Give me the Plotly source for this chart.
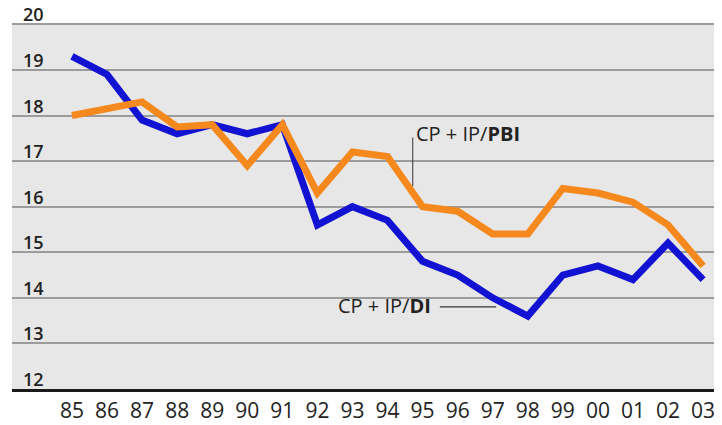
import plotly.graph_objects as go

years = ["85", "86", "87", "88", "89", "90", "91", "92", "93", "94",
         "95", "96", "97", "98", "99", "00", "01", "02", "03"]
cp_ip_di = [19.3, 18.9, 17.9, 17.6, 17.8, 17.6, 17.8, 15.6, 16.0, 15.7,
            14.8, 14.5, 14.0, 13.6, 14.5, 14.7, 14.4, 15.2, 14.4]
cp_ip_pbi = [18.0, 18.15, 18.3, 17.75, 17.8, 16.9, 17.8, 16.3, 17.2, 17.1,
             16.0, 15.9, 15.4, 15.4, 16.4, 16.3, 16.1, 15.6, 14.7]
y_ticks = [12, 13, 14, 15, 16, 17, 18, 19, 20]

BLUE = "#1212d2"
ORANGE = "#f5891e"
FONT = "Open Sans"

fig = go.Figure()
fig.add_trace(go.Scatter(x=years, y=cp_ip_di, mode="lines",
                         line=dict(color=BLUE, width=7), name="CP + IP/DI"))
fig.add_trace(go.Scatter(x=years, y=cp_ip_pbi, mode="lines",
                         line=dict(color=ORANGE, width=7), name="CP + IP/PBI"))

# étiquettes avec trait de rappel
fig.add_annotation(x=9.72, y=16.45, ax=9.72, ay=17.55, axref="x", ayref="y",
                   xref="x", yref="y", text="", showarrow=True, arrowhead=0,
                   arrowwidth=1, arrowcolor="#333")
fig.add_annotation(x=9.76, y=17.6, text="CP + IP/<b>PBI</b>", showarrow=False,
                   xanchor="left", font=dict(family=FONT, size=20, color="#222"))
fig.add_annotation(x=12.1, y=13.8, ax=10.45, ay=13.8, axref="x", ayref="y",
                   xref="x", yref="y", text="", showarrow=True, arrowhead=0,
                   arrowwidth=1.2, arrowcolor="#333")
fig.add_annotation(x=10.3, y=13.84, text="CP + IP/<b>DI</b>", showarrow=False,
                   xanchor="right", font=dict(family=FONT, size=20, color="#222"))

# graduations de l'axe y posées au-dessus de chaque ligne de grille
for v in y_ticks:
    fig.add_annotation(x=0, xref="paper", xanchor="left", xshift=9,
                       y=v, yref="y", yanchor="middle", yshift=10,
                       text=str(v), showarrow=False,
                       font=dict(family=FONT, size=18, color="#222", weight=600))

fig.update_xaxes(type="category", range=[-1.71, 18.54], showgrid=False,
                 showline=True, linecolor="#1a1a1a", linewidth=2.5,
                 ticks="", ticklabelstandoff=1, automargin=False,
                 tickfont=dict(family=FONT, size=21, color="#222"))
fig.update_yaxes(range=[12, 20.03], tickvals=y_ticks, showgrid=True,
                 gridcolor="#9c9c9c", gridwidth=1.5, zeroline=False,
                 showticklabels=False, automargin=False)
fig.update_layout(width=714, height=417, showlegend=False,
                  plot_bgcolor="#e7e7e7", paper_bgcolor="white",
                  margin=dict(l=4, r=0, t=15, b=36))
fig.write_html("out.html")
